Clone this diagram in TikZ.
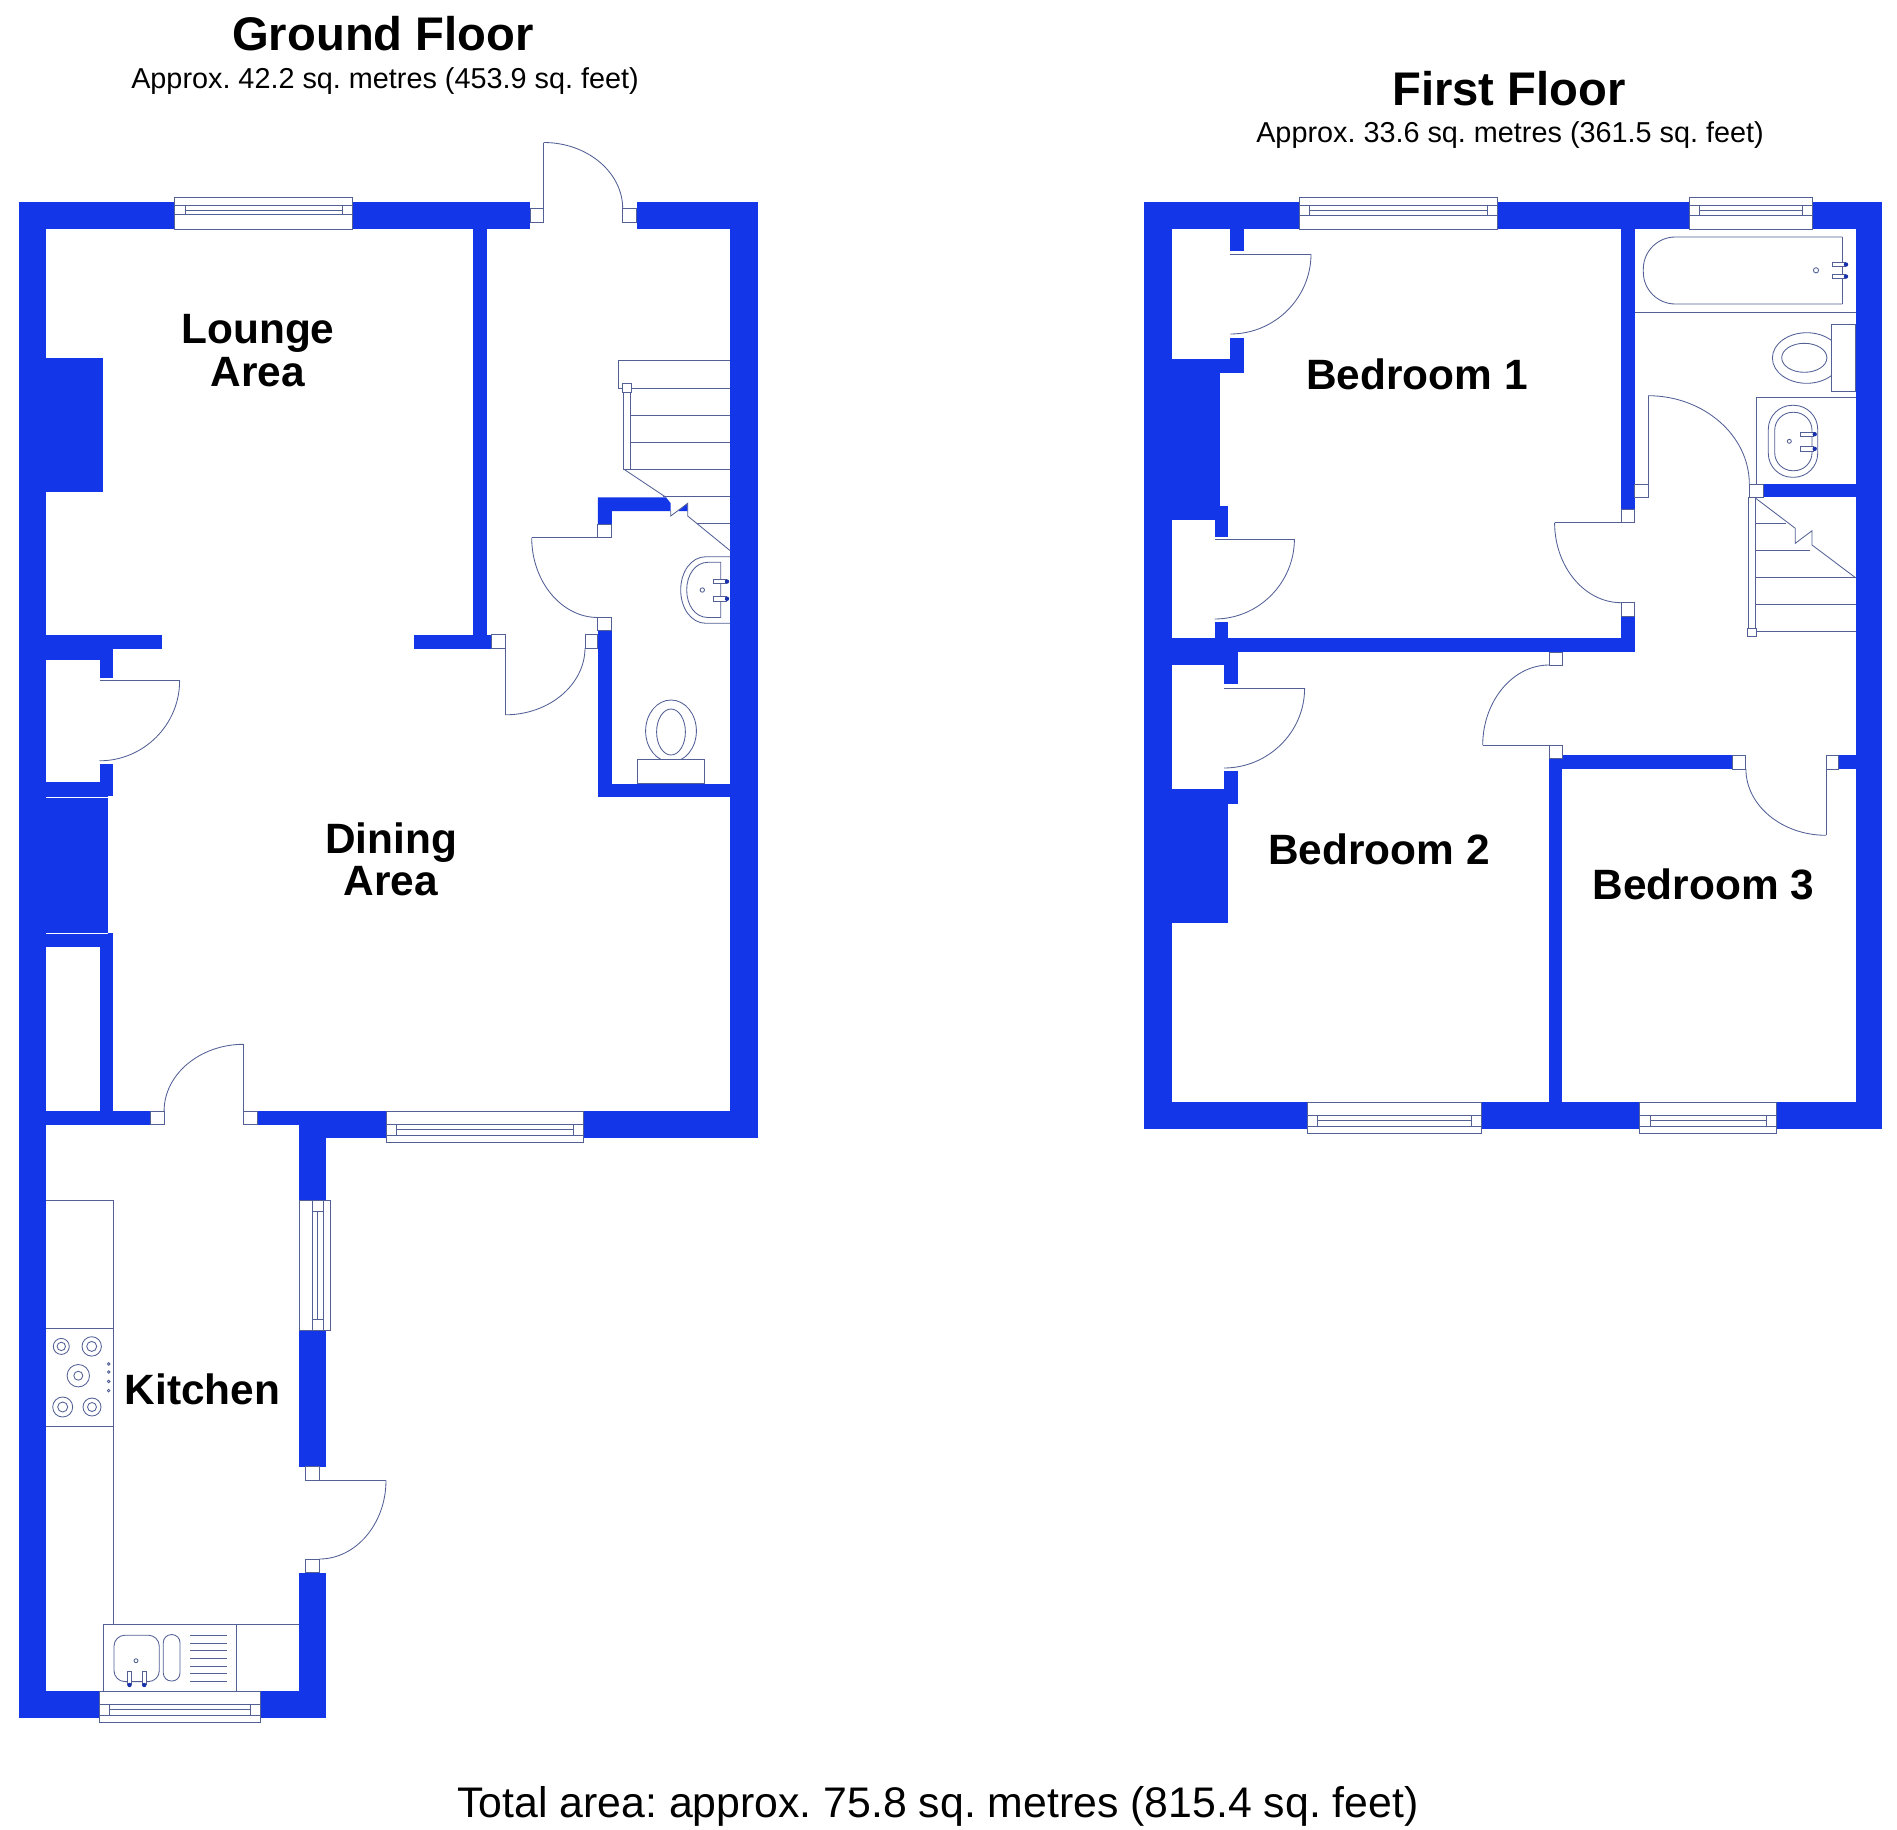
\documentclass[tikz,border=0pt]{standalone}
\usepackage{fontspec}
\setmainfont{Liberation Sans}
\frenchspacing
\definecolor{wallc}{RGB}{18,54,232}
\definecolor{linec}{RGB}{82,96,150}
\definecolor{tapc}{RGB}{24,48,170}
\tikzset{
  fine/.style={draw=linec,line width=0.85bp},
  jambst/.style={fine,fill=white},
  roomlabel/.style={anchor=base,inner sep=0pt,font=\fontsize{42.4bp}{48bp}\selectfont\bfseries,text=black},
  titlelabel/.style={anchor=base,inner sep=0pt,font=\fontsize{47.2bp}{54bp}\selectfont\bfseries,text=black},
  arealabel/.style={anchor=base,inner sep=0pt,font=\fontsize{28.8bp}{34bp}\selectfont,text=black},
  totallabel/.style={anchor=base,inner sep=0pt,font=\fontsize{42.8bp}{48bp}\selectfont,text=black}
}
\newcommand\wall[4]{\fill[wallc] (#1,#2) rectangle (#3,#4);}
\newcommand\jamb[4]{\path[jambst] (#1,#2) rectangle (#3,#4);}
% leaf vertical: tip (#1,#2), arc end (#3,#4)
\newcommand\arcV[4]{\draw[fine] (#1,#2) .. controls ({#1+.55*(#3-#1)},#2) and (#3,{#4-.55*(#4-#2)}) .. (#3,#4);}
% leaf horizontal
\newcommand\arcH[4]{\draw[fine] (#1,#2) .. controls (#1,{#2+.55*(#4-#2)}) and ({#3-.55*(#3-#1)},#4) .. (#3,#4);}
\newcommand\winH[9]{%
  \path[jambst] (#1,#3) rectangle (#2,#7);
  \draw[fine] (#1,#4) -- (#2,#4) (#1,#6) -- (#2,#6) (#8,#5) -- (#9,#5) (#8,#4) -- (#8,#6) (#9,#4) -- (#9,#6);}
\newcommand\tapdot[2]{\fill[tapc] (#1,#2) circle (2.2);}
\begin{document}
\begin{tikzpicture}[x=1bp,y=-1bp]
\useasboundingbox (0,0) rectangle (1897,1830);
\fill[white] (0,0) rectangle (1897,1830);

% ===== Ground floor walls =====
\wall{19.4}{202.3}{530.2}{229.1}
\wall{637}{202.3}{757.5}{229.1}
\wall{19.4}{202.3}{46.3}{1718}
\wall{730.2}{202.3}{757.5}{1138.3}
\wall{46.3}{357.7}{103}{491.6}
\wall{46.3}{634.9}{162.2}{648.7}
\wall{46.3}{648.7}{113.4}{659.9}
\wall{99.5}{648.7}{113.4}{678.2}
\wall{99.5}{763.9}{113.4}{795.6}
\wall{46.3}{781.7}{113.4}{795.6}
\wall{46.3}{795.6}{108}{933.3}
\wall{46.3}{933.3}{113.4}{946.7}
\wall{99.5}{946.7}{113.4}{1111}
\wall{46.3}{1111}{150.7}{1124.7}
\wall{257.2}{1111}{325.8}{1124.7}
\wall{325.8}{1111}{757.5}{1138.3}
\wall{299}{1111}{325.8}{1200.4}
\wall{299}{1330}{326}{1466.7}
\wall{299}{1572.7}{326}{1718}
\wall{19.4}{1691.2}{99.3}{1718}
\wall{260.7}{1691.2}{326}{1718}
\wall{473}{229}{487}{648.7}
\wall{414.3}{634.9}{491.9}{648.7}
\fill[wallc] (597.9,497.3) -- (666,497.3) -- (670.7,503.3) -- (670.7,511) -- (611.8,511) -- (611.8,524.2) -- (597.9,524.2) -- cycle;
\fill[wallc] (678.3,511) -- (687.7,503.3) -- (687.7,511) -- cycle;
\wall{597.9}{630.9}{611.8}{796.9}
\wall{597.9}{783.5}{730.5}{796.9}
\draw[white,line width=0.8bp] (46.3,797) -- (108,797) (46.3,933.6) -- (108,933.6);

% ===== Ground floor windows =====
\winH{174.6}{352.7}{197.9}{205}{210.4}{214.8}{229.1}{185}{342.7}
\winH{386.5}{583}{1111}{1124.7}{1129.7}{1135.3}{1142.3}{396.4}{573}
\winH{99.3}{260.7}{1691.2}{1704.3}{1709.6}{1715.2}{1722.4}{109.3}{250.3}
\path[jambst] (299,1200.4) rectangle (330.3,1330);
\draw[fine] (312.3,1200.4) -- (312.3,1330) (323.3,1200.4) -- (323.3,1330) (317.7,1211.4) -- (317.7,1319) (312.3,1211.4) -- (323.3,1211.4) (312.3,1319) -- (323.3,1319);

% ===== Ground floor doors =====
\jamb{530.2}{208.6}{543.7}{222.9}
\jamb{622.7}{208.6}{636.7}{222.9}
\draw[fine] (543.7,208.6) -- (543.7,142.5);
\arcV{543.7}{142.5}{622.7}{208.6}
\jamb{491.9}{634.9}{505.4}{648.7}
\jamb{585}{634.9}{597.9}{648.7}
\draw[fine] (505.4,648.7) -- (505.4,714.8);
\arcV{505.4}{714.8}{585}{647.8}
\jamb{597.9}{524.2}{611.8}{537.6}
\jamb{597.9}{617.5}{611.8}{630.9}
\draw[fine] (597.9,537.6) -- (531.7,537.6);
\arcH{531.7}{537.6}{597.9}{617.5}
\draw[fine] (99.5,680.9) -- (179.6,680.9);
\arcH{179.6}{680.9}{99.5}{760.8}
\jamb{150.7}{1111}{164.1}{1124.7}
\jamb{243.7}{1111}{257.2}{1124.7}
\draw[fine] (243.7,1111) -- (243.7,1044.3);
\arcV{243.7}{1044.3}{164.1}{1111}
\jamb{305.7}{1466.7}{319.3}{1480.3}
\jamb{305.7}{1559}{319.3}{1572.7}
\draw[fine] (319.3,1480.3) -- (386,1480.3);
\arcH{386}{1480.3}{319.3}{1559}

% ===== Ground floor stairs =====
\draw[fine] (730.2,360.7) -- (618.3,360.7) -- (618.3,388.3) -- (623,388.3);
\draw[fine] (631,388.3) -- (730.2,388.3) (630.7,415) -- (730.2,415) (630.7,442) -- (730.2,442) (630.7,469) -- (730.2,469) (663.3,496.3) -- (730.2,496.3) (696.7,523.3) -- (730.2,523.3);
\path[jambst] (623.3,392) rectangle (630.7,469.3);
\path[jambst] (622.3,383.3) rectangle (631.7,392.7);
\draw[fine] (624,469.3) -- (666,497.3);
\draw[fine] (670.7,511) -- (670.7,516) -- (687.7,503.3) -- (687.7,516) -- (730.2,550.7);

% ===== WC fittings =====
\draw[fine] (730.2,556.7) -- (706,556.7) .. controls (691,556.7) and (680.7,572) .. (680.7,590) .. controls (680.7,608) and (691,623.3) .. (706,623.3) -- (730.2,623.3);
\draw[fine] (720.7,617.5) -- (720.7,562.3) -- (708,562.3) .. controls (695,562.3) and (686.7,575) .. (686.7,590) .. controls (686.7,605) and (695,617.5) .. (708,617.5) -- cycle;
\path[jambst] (713.3,579.3) rectangle (726,583.7);
\path[jambst] (713.3,596.7) rectangle (726,601);
\tapdot{727}{581.5}\tapdot{727}{598.8}
\draw[fine] (702.3,590) circle (2.2);
\draw[fine] (671,731) ellipse (25.4 and 31);
\draw[fine] (671,732) ellipse (14.4 and 23);
\path[jambst] (637.7,759) rectangle (704.3,783.5);

% ===== Kitchen fittings =====
\draw[fine] (46.3,1200.4) -- (113.3,1200.4) -- (113.3,1624.6);
\draw[fine] (46.3,1328.2) -- (113.3,1328.2) (46.3,1426) -- (113.3,1426);
\foreach \cx/\cy/\ra/\rb in {61.3/1346.4/8/4.2, 91.7/1346.4/9.7/5, 78.3/1375.7/11.2/4.5, 62.7/1407/10/5, 92/1407/9/4.5}{
  \draw[fine] (\cx,\cy) circle (\ra) (\cx,\cy) circle (\rb);
}
\foreach \dy in {1363.9,1372,1381.4,1390.6}{\draw[fine] (108.7,\dy) circle (1.3);}
\draw[fine] (103.3,1691.2) -- (103.3,1624.6) -- (299,1624.6) (236.7,1624.6) -- (236.7,1691.2);
\draw[fine,rounded corners=11bp] (114,1635.2) rectangle (159.3,1681.6);
\draw[fine,rounded corners=8bp] (163.3,1634.6) rectangle (180,1681);
\foreach \ly in {1635.6,1643.1,1650.6,1658.4,1666,1673,1681}{\draw[fine] (190,\ly) -- (226.7,\ly);}
\draw[fine] (136,1660.7) circle (2);
\path[jambst] (127.3,1671) rectangle (131.7,1684);
\path[jambst] (142,1671) rectangle (146.3,1684);
\tapdot{129.5}{1685}\tapdot{144.2}{1685}

% ===== First floor walls =====
\wall{1144.2}{202.3}{1882.3}{229.3}
\wall{1144.2}{202.3}{1171.6}{1128.7}
\wall{1855.5}{202.3}{1882.3}{1128.7}
\wall{1144.2}{1102.3}{1882.3}{1128.7}
\wall{1230.3}{229.3}{1244}{251}
\wall{1230.3}{337.7}{1244}{373}
\wall{1171.6}{359.3}{1219.5}{520}
\wall{1219.5}{359.3}{1244}{373}
\wall{1214.6}{506}{1227.8}{536.7}
\wall{1171.6}{506}{1214.6}{520}
\wall{1214.6}{622.3}{1227.8}{640}
\wall{1171.6}{638.3}{1634.9}{652.3}
\wall{1171.6}{638.3}{1237.6}{665}
\wall{1223.9}{652.1}{1237.6}{684.2}
\wall{1223.9}{771}{1237.6}{804.2}
\wall{1171.6}{789.3}{1227.8}{923.2}
\wall{1621.2}{229.3}{1634.9}{509.3}
\wall{1621.2}{616}{1634.9}{652.3}
\wall{1763}{484}{1855.5}{497.3}
\wall{1562.4}{755.2}{1732.7}{769}
\wall{1549.2}{758.6}{1562.4}{1102.3}
\wall{1838.8}{755.2}{1855.5}{769}

% ===== First floor windows =====
\winH{1299.3}{1497.9}{197.7}{205}{210}{215.7}{229.3}{1309.5}{1487.6}
\winH{1689.6}{1812.9}{197.7}{205}{210}{215.7}{229.3}{1699.9}{1802.7}
\winH{1307}{1481.7}{1102.3}{1115.5}{1120.9}{1126.7}{1133.4}{1317.9}{1471}
\winH{1639.8}{1776.7}{1102.3}{1115.5}{1120.9}{1126.7}{1133.4}{1650}{1766.4}

% ===== First floor doors =====
\draw[fine] (1230.3,254) -- (1311,254);
\arcH{1311}{254}{1230.3}{334}
\draw[fine] (1214.6,539) -- (1294.4,539);
\arcH{1294.4}{539}{1214.6}{619}
\draw[fine] (1223.9,688.3) -- (1304.6,688.3);
\arcH{1304.6}{688.3}{1223.9}{768}
\jamb{1621.2}{509.3}{1634.9}{522.7}
\jamb{1621.2}{602.7}{1634.9}{616}
\draw[fine] (1621.2,522.7) -- (1554.6,522.7);
\arcH{1554.6}{522.7}{1621.2}{602.7}
\jamb{1634.9}{484}{1648}{497.3}
\jamb{1749.3}{484}{1763}{497.3}
\draw[fine] (1648,484) -- (1648,395.7);
\arcV{1648}{395.7}{1749.3}{484}
\jamb{1549.2}{652.1}{1562.4}{665}
\jamb{1549.2}{745.4}{1562.4}{758.6}
\draw[fine] (1549.2,745.4) -- (1482.7,745.4);
\arcH{1482.7}{745.4}{1549.2}{665}
\jamb{1732.7}{755.2}{1745.9}{769}
\jamb{1826.1}{755.2}{1838.8}{769}
\draw[fine] (1826.1,769) -- (1826.1,835.3);
\arcV{1826.1}{835.3}{1745.9}{769}

% ===== First floor stairs =====
\draw[fine] (1755.7,523.3) -- (1785.5,523.3) (1755.7,550.3) -- (1810,550.3) (1755.7,577.7) -- (1855.5,577.7) (1755.7,604.7) -- (1855.5,604.7) (1755.7,631.7) -- (1855.5,631.7);
\path[jambst] (1748.8,497.3) rectangle (1755.7,628.3);
\path[jambst] (1747.4,628.3) rectangle (1756.7,636.7);
\draw[fine] (1755.7,498.3) -- (1795.3,528.3) -- (1795.3,543.3) -- (1812,530.7) -- (1812,545) -- (1855.5,577.7);

% ===== Bathroom =====
\draw[fine,rounded corners=32bp] (1842.3,237) -- (1643.3,237) -- (1643.3,304) -- (1842.3,304);
\draw[fine] (1842.3,237) -- (1842.3,304);
\draw[fine] (1816,270.3) circle (2.6);
\path[jambst] (1832,262.3) rectangle (1845,266.7);
\path[jambst] (1832,274.3) rectangle (1845,278.7);
\tapdot{1846}{264.5}\tapdot{1846}{276.5}
\draw[fine] (1635,312) -- (1855.5,312);
\draw[fine] (1806.7,358) ellipse (34.3 and 25.3);
\draw[fine] (1804.3,357.8) ellipse (22.6 and 14.5);
\path[jambst] (1831.3,324.3) rectangle (1855.5,391.3);
\draw[fine] (1756.3,484) -- (1756.3,397.7) -- (1855.5,397.7);
\draw[fine,rounded corners=24bp] (1768.3,405.3) rectangle (1817.7,477.3);
\draw[fine,rounded corners=18bp] (1774.7,412.3) rectangle (1812,470.7);
\path[jambst] (1800.3,432) rectangle (1813.3,436.3);
\path[jambst] (1800.3,446.7) rectangle (1813.3,451);
\tapdot{1814.7}{434.2}\tapdot{1814.7}{448.8}
\draw[fine] (1789.3,441.3) circle (2);

% ===== Texts =====
\node[titlelabel] (gtitle) at (383,50.8) {Ground Floor};
\node[arealabel] (garea) at (385,88.3) {Approx. 42.2 sq. metres (453.9 sq. feet)};
\node[titlelabel] (ftitle) at (1509,105.5) {First Floor};
\node[arealabel] (farea) at (1510,142.8) {Approx. 33.6 sq. metres (361.5 sq. feet)};
\node[roomlabel] (l1) at (258,343.6) {Lounge};
\node[roomlabel] (l2) at (257.7,386) {Area};
\node[roomlabel] (d1) at (391,853) {Dining};
\node[roomlabel] (d2) at (391,895.6) {Area};
\node[roomlabel] (k1) at (202.5,1404) {Kitchen};
\node[roomlabel] (b1) at (1417,389) {Bedroom 1};
\node[roomlabel] (b2) at (1379,864.6) {Bedroom 2};
\node[roomlabel] (b3) at (1703.4,899) {Bedroom 3};
\node[totallabel] (total) at (938,1817.5) {Total area: approx. 75.8 sq. metres (815.4 sq. feet)};
\end{tikzpicture}
\end{document}
